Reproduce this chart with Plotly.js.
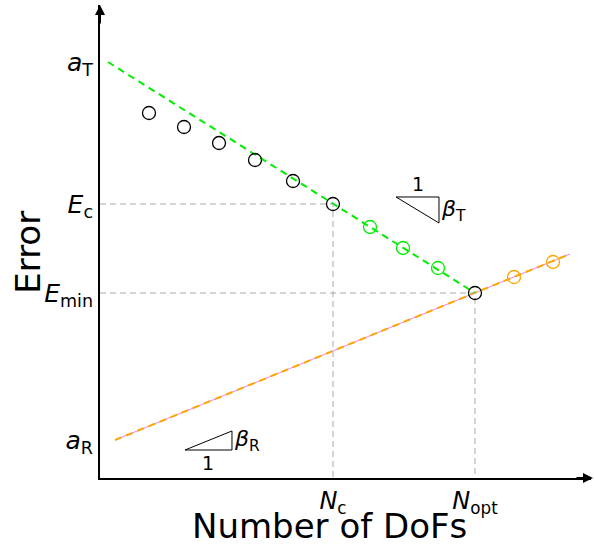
<!DOCTYPE html>
<html>
<head>
<meta charset="utf-8">
<script src="https://cdn.plot.ly/plotly-3.0.1.min.js"></script>
<style>html,body{margin:0;padding:0;background:#fff;}#chart{width:594px;height:547px;}</style>
</head>
<body>
<div id="chart"></div>
<script>
// ---- data (schematic units) ----
const truncLineX = [0.163, 7.637];
const truncLineY = [8.795, 3.911];
const roundLineX = [0.305, 9.572];
const roundLineY = [0.803, 4.736];
const blackX = [0.998, 1.711, 2.424, 3.157, 3.931, 4.745, 7.637];
const blackY = [7.717, 7.421, 7.082, 6.723, 6.279, 5.793, 3.911];
const greenX = [5.499, 6.171, 6.884];
const greenY = [5.307, 4.863, 4.440];
const orangeX = [8.432, 9.226];
const orangeY = [4.249, 4.567];
const xTickVals = [4.745, 7.637];
const xTickText = ['<i>N</i><sub>c</sub>', '<i>N</i><sub>opt</sub>'];
const yTickVals = [8.795, 5.793, 3.911, 0.803];
const yTickText = ['<i>a</i><sub>T</sub>', '<i>E</i><sub>c</sub>', '<i>E</i><sub>min</sub>', '<i>a</i><sub>R</sub>'];
const triTX = [6.029, 6.904, 6.904];
const triTY = [5.941, 5.941, 5.391];
const triRX = [1.731, 2.688, 2.688];
const triRY = [0.592, 0.994, 0.592];
const xTitle = 'Number of DoFs';
const yTitle = 'Error';

const FONT = 'DejaVu Sans, sans-serif';
const markerBase = {symbol: 'circle-open', size: 13};

const traces = [
  {x: roundLineX, y: roundLineY, mode: 'lines', line: {color: '#ee82ee', width: 1}, hoverinfo: 'skip'},
  {x: roundLineX, y: roundLineY, mode: 'lines', line: {color: '#ffa500', width: 2, dash: '7px,5px'}, hoverinfo: 'skip'},
  {x: truncLineX, y: truncLineY, mode: 'lines', line: {color: '#00ee00', width: 2, dash: '7px,5px'}, hoverinfo: 'skip'},
  {x: [0, blackX[5], blackX[5]], y: [blackY[5], blackY[5], 0], mode: 'lines', line: {color: '#aaaaaa', width: 1, dash: '6px,4px'}},
  {x: [0, blackX[6], blackX[6]], y: [blackY[6], blackY[6], 0], mode: 'lines', line: {color: '#aaaaaa', width: 1, dash: '6px,4px'}},
  {x: blackX, y: blackY, mode: 'markers', marker: Object.assign({color: '#000', line: {width: 1.3, color: '#111'}}, markerBase)},
  {x: greenX, y: greenY, mode: 'markers', marker: Object.assign({color: '#00ee00', line: {width: 1.3, color: '#00ee00'}}, markerBase)},
  {x: orangeX, y: orangeY, mode: 'markers', marker: Object.assign({color: '#ffa500', line: {width: 1.3, color: '#ffa500'}}, markerBase)},
  {x: triTX.concat([triTX[0]]), y: triTY.concat([triTY[0]]), mode: 'lines', line: {color: '#000', width: 1}},
  {x: triRX.concat([triRX[0]]), y: triRY.concat([triRY[0]]), mode: 'lines', line: {color: '#000', width: 1}}
];

const layout = {
  width: 594, height: 547,
  margin: {l: 100, r: 3, t: 5, b: 69},
  paper_bgcolor: '#fff', plot_bgcolor: '#fff',
  showlegend: false,
  font: {family: FONT, color: '#000'},
  xaxis: {
    range: [0, 10], showgrid: false, zeroline: false,
    showline: true, linecolor: '#000', linewidth: 2,
    ticks: '', tickvals: xTickVals, ticktext: xTickText,
    tickfont: {family: FONT, size: 24},
    fixedrange: true
  },
  yaxis: {
    range: [0, 10], showgrid: false, zeroline: false,
    showline: true, linecolor: '#000', linewidth: 2,
    ticks: '', tickvals: yTickVals, ticktext: yTickText,
    tickfont: {family: FONT, size: 25},
    fixedrange: true
  },
  annotations: [
    {xref: 'paper', yref: 'paper', x: 0, y: 1, ax: 0, ay: 20, showarrow: true, arrowhead: 2, arrowsize: 1, arrowwidth: 2, arrowcolor: '#000', text: ''},
    {xref: 'paper', yref: 'paper', x: 1.008, y: 0, ax: -20, ay: 0, showarrow: true, arrowhead: 2, arrowsize: 1, arrowwidth: 2, arrowcolor: '#000', text: ''},
    {xref: 'paper', yref: 'paper', x: 0.4684, y: -0.101, xanchor: 'center', yanchor: 'middle', showarrow: false, text: xTitle, font: {family: FONT, size: 34}},
    {xref: 'paper', yref: 'paper', x: -0.147, y: 0.478, xanchor: 'center', yanchor: 'middle', textangle: -90, showarrow: false, text: yTitle, font: {family: FONT, size: 34}},
    {xref: 'x', yref: 'y', x: (triTX[0] + triTX[1]) / 2, y: triTY[0], yanchor: 'bottom', showarrow: false, text: '1', font: {family: FONT, size: 19}},
    {xref: 'x', yref: 'y', x: triTX[1], y: (triTY[1] + triTY[2]) / 2, xanchor: 'left', showarrow: false, text: '<i>β</i><sub>T</sub>', font: {family: FONT, size: 22}},
    {xref: 'x', yref: 'y', x: (triRX[0] + triRX[1]) / 2, y: triRY[0], yanchor: 'top', showarrow: false, text: '1', font: {family: FONT, size: 19}},
    {xref: 'x', yref: 'y', x: triRX[1], y: (triRY[1] + triRY[2]) / 2, xanchor: 'left', showarrow: false, text: '<i>β</i><sub>R</sub>', font: {family: FONT, size: 22}}
  ]
};

Plotly.newPlot('chart', traces, layout, {displayModeBar: false, staticPlot: true});
</script>
</body>
</html>
